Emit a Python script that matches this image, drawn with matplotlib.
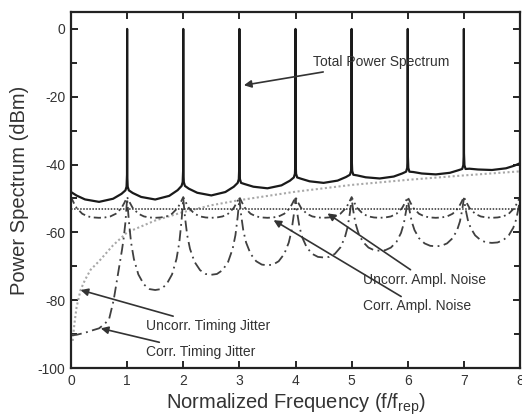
import matplotlib
matplotlib.use("Agg")
import matplotlib.pyplot as plt
from matplotlib.ticker import MultipleLocator

plt.rcParams['font.family'] = ['Liberation Sans', 'DejaVu Sans']
plt.rcParams['axes.unicode_minus'] = False

# ---- data ----
total_freq = [0.0, 0.1, 0.25, 0.5, 0.75, 0.9, 0.97, 0.99, 0.998, 1.0,
              1.002, 1.01, 1.03, 1.1, 1.25, 1.5, 1.75, 1.9, 1.97, 1.99, 1.998, 2.0,
              2.002, 2.01, 2.03, 2.1, 2.25, 2.5, 2.75, 2.9, 2.97, 2.99, 2.998, 3.0,
              3.002, 3.01, 3.03, 3.1, 3.25, 3.5, 3.75, 3.9, 3.97, 3.99, 3.998, 4.0,
              4.002, 4.01, 4.03, 4.1, 4.25, 4.5, 4.75, 4.9, 4.97, 4.99, 4.998, 5.0,
              5.002, 5.01, 5.03, 5.1, 5.25, 5.5, 5.75, 5.9, 5.97, 5.99, 5.998, 6.0,
              6.002, 6.01, 6.03, 6.1, 6.25, 6.5, 6.75, 6.9, 6.97, 6.99, 6.998, 7.0,
              7.002, 7.01, 7.03, 7.1, 7.25, 7.5, 7.75, 7.9, 8.0]
total_db = [-48.1, -49.14, -50.28, -51.0, -50.08, -48.63, -47.6, -46.5, -43.0, 0.0,
            -43.0, -46.5, -47.6, -48.38, -49.55, -50.3, -49.23, -47.55, -46.3, -45.2, -41.7, 0.0,
            -41.7, -45.2, -46.3, -47.12, -48.32, -49.1, -48.1, -46.54, -45.4, -44.3, -40.8, 0.0,
            -40.8, -44.3, -45.4, -45.78, -46.53, -47.0, -46.13, -44.76, -43.8, -42.7, -39.2, 0.0,
            -39.2, -42.7, -43.8, -44.18, -44.93, -45.4, -44.73, -43.67, -43.0, -41.9, -38.4, 0.0,
            -38.4, -41.9, -43.0, -43.2, -43.75, -44.1, -43.53, -42.63, -42.1, -41.0, -37.5, 0.0,
            -37.5, -41.0, -42.1, -42.2, -42.63, -42.9, -42.43, -41.68, -41.3, -40.2, -36.7, 0.0,
            -36.7, -40.2, -41.3, -41.22, -41.45, -41.6, -41.1, -40.32, -39.6]

uncorr_ampl_freq = [0.0, 8.0]
uncorr_ampl_db = [-53.2, -53.2]

corr_ampl_freq = [0.0, 0.05, 0.1, 0.2, 0.3, 0.4, 0.5, 0.6, 0.7, 0.8, 0.9, 0.95,
                  1.0, 1.05, 1.1, 1.2, 1.3, 1.4, 1.5, 1.6, 1.7, 1.8, 1.9, 1.95,
                  2.0, 2.05, 2.1, 2.2, 2.3, 2.4, 2.5, 2.6, 2.7, 2.8, 2.9, 2.95,
                  3.0, 3.05, 3.1, 3.2, 3.3, 3.4, 3.5, 3.6, 3.7, 3.8, 3.9, 3.95,
                  4.0, 4.05, 4.1, 4.2, 4.3, 4.4, 4.5, 4.6, 4.7, 4.8, 4.9, 4.95,
                  5.0, 5.05, 5.1, 5.2, 5.3, 5.4, 5.5, 5.6, 5.7, 5.8, 5.9, 5.95,
                  6.0, 6.05, 6.1, 6.2, 6.3, 6.4, 6.5, 6.6, 6.7, 6.8, 6.9, 6.95,
                  7.0, 7.05, 7.1, 7.2, 7.3, 7.4, 7.5, 7.6, 7.7, 7.8, 7.9, 7.95, 8.0]
corr_ampl_db = [-49.6, -51.3, -52.8, -54.5, -55.3, -55.6, -55.7, -55.6, -55.3, -54.5, -52.8, -51.3,
                -49.6, -51.3, -52.8, -54.5, -55.3, -55.6, -55.7, -55.6, -55.3, -54.5, -52.8, -51.3,
                -49.6, -51.3, -52.8, -54.5, -55.3, -55.6, -55.7, -55.6, -55.3, -54.5, -52.8, -51.3,
                -49.6, -51.3, -52.8, -54.5, -55.3, -55.6, -55.7, -55.6, -55.3, -54.5, -52.8, -51.3,
                -49.6, -51.3, -52.8, -54.5, -55.3, -55.6, -55.7, -55.6, -55.3, -54.5, -52.8, -51.3,
                -49.6, -51.3, -52.8, -54.5, -55.3, -55.6, -55.7, -55.6, -55.3, -54.5, -52.8, -51.3,
                -49.6, -51.3, -52.8, -54.5, -55.3, -55.6, -55.7, -55.6, -55.3, -54.5, -52.8, -51.3,
                -49.6, -51.3, -52.8, -54.5, -55.3, -55.6, -55.7, -55.6, -55.3, -54.5, -52.8, -51.3, -49.6]

uncorr_tj_freq = [0.03, 0.06, 0.1, 0.17, 0.25, 0.35, 0.5, 0.75, 1.0, 1.5, 2.0, 2.5,
                  3.0, 4.0, 5.0, 6.0, 7.0, 8.0]
uncorr_tj_db = [-92.0, -87.0, -82.0, -77.0, -74.0, -71.0, -68.5, -63.8, -60.0, -56.5, -54.0, -52.0,
                -50.5, -48.0, -46.0, -44.5, -43.2, -42.0]

corr_tj_freq = [0.0, 0.1, 0.25, 0.4, 0.5, 0.6, 0.68, 0.76, 0.82, 0.87, 0.91, 0.94, 0.97, 1.0,
                1.03, 1.07, 1.12, 1.2, 1.3, 1.4, 1.5, 1.6, 1.7, 1.8, 1.88, 1.93, 1.97, 2.0,
                2.03, 2.07, 2.12, 2.2, 2.3, 2.4, 2.5, 2.6, 2.7, 2.8, 2.88, 2.93, 2.97, 3.0,
                3.03, 3.07, 3.12, 3.2, 3.3, 3.4, 3.5, 3.6, 3.7, 3.8, 3.88, 3.93, 3.97, 4.0,
                4.03, 4.07, 4.12, 4.2, 4.3, 4.4, 4.5, 4.6, 4.7, 4.8, 4.88, 4.93, 4.97, 5.0,
                5.03, 5.07, 5.12, 5.2, 5.3, 5.4, 5.5, 5.6, 5.7, 5.8, 5.88, 5.93, 5.97, 6.0,
                6.03, 6.07, 6.12, 6.2, 6.3, 6.4, 6.5, 6.6, 6.7, 6.8, 6.88, 6.93, 6.97, 7.0,
                7.03, 7.07, 7.12, 7.2, 7.3, 7.4, 7.5, 7.6, 7.7, 7.8, 7.88, 7.93, 7.97, 8.0]
corr_tj_db = [-90.4, -90.2, -89.6, -88.8, -88.3, -87.0, -85.5, -80.0, -74.0, -69.0, -65.0, -61.5, -57.0, -50.0,
              -56.48, -62.96, -67.82, -72.41, -75.38, -76.73, -77.0, -76.73, -75.38, -72.41, -67.82, -62.96, -56.48, -50.0,
              -55.4, -60.8, -64.85, -68.67, -71.15, -72.27, -72.5, -72.27, -71.15, -68.67, -64.85, -60.8, -55.4, -50.0,
              -54.73, -59.46, -63.0, -66.35, -68.52, -69.5, -69.7, -69.5, -68.52, -66.35, -63.0, -59.46, -54.73, -50.0,
              -54.18, -58.35, -61.48, -64.44, -66.36, -67.23, -67.4, -67.23, -66.36, -64.44, -61.48, -58.35, -54.18, -50.0,
              -53.7, -57.39, -60.16, -62.78, -64.48, -65.25, -65.4, -65.25, -64.48, -62.78, -60.16, -57.39, -53.7, -50.0,
              -53.38, -56.77, -59.31, -61.7, -63.25, -63.96, -64.1, -63.96, -63.25, -61.7, -59.31, -56.77, -53.38, -50.0,
              -53.14, -56.29, -58.65, -60.87, -62.31, -62.97, -63.1, -62.97, -62.31, -60.87, -58.65, -56.29, -53.14, -50.0]

x_ticks = [0, 1, 2, 3, 4, 5, 6, 7, 8]
y_ticks = [0, -20, -40, -60, -80, -100]

# ---- figure ----
fig = plt.figure(figsize=(5.22, 4.16), dpi=100)
ax = fig.add_axes([71 / 522, 48 / 416, 449 / 522, 356 / 416])

ax.plot(uncorr_tj_freq, uncorr_tj_db, color='#a8a8a8', lw=1.5, linestyle=(0, (1, 1.2)))
ax.plot(corr_tj_freq, corr_tj_db, color='#404040', lw=1.3, linestyle=(0, (6, 2.5, 1, 2.5)))
ax.plot(corr_ampl_freq, corr_ampl_db, color='#404040', lw=1.3, linestyle=(0, (4, 2, 1, 2)))
ax.plot(uncorr_ampl_freq, uncorr_ampl_db, color='#303030', lw=1.1, linestyle=(0, (1, 1)))
ax.plot(total_freq, total_db, color='#1a1a1a', lw=1.6)

ax.set_xlim(0, 8)
ax.set_ylim(-100, 5)
ax.set_xticks(x_ticks)
ax.set_yticks(y_ticks)
ax.yaxis.set_minor_locator(MultipleLocator(10))
ax.tick_params(which='both', direction='in', top=True, right=True, width=1.2,
               labelsize=10, labelcolor='#333333', pad=4)
ax.tick_params(which='major', length=5)
ax.tick_params(which='minor', length=4)
ax.tick_params(axis='y', which='both', right=True, labelright=False)
for s in ax.spines.values():
    s.set_linewidth(1.6)
    s.set_color('#222222')

ax.set_xlabel('Normalized Frequency (f/f$_{\\mathregular{rep}}$)', fontsize=14.5,
              color='#333333', labelpad=3)
ax.set_ylabel('Power Spectrum (dBm)', fontsize=14.5, color='#333333', labelpad=6)

arrow = dict(arrowstyle='-|>', color='#333333', lw=1.2, mutation_scale=11,
             shrinkA=0, shrinkB=0)
tk = dict(fontsize=10, color='#333333', va='center', ha='left')
ax.annotate('Total Power Spectrum', xy=(3.08, -16.6), xytext=(4.32, -9.8),
            arrowprops=arrow, **tk)
ax.annotate('Uncorr. Ampl. Noise', xy=(4.57, -54.4), xytext=(5.21, -73.9),
            arrowprops=arrow, **tk)
ax.annotate('Corr. Ampl. Noise', xy=(3.61, -56.4), xytext=(5.21, -81.8),
            arrowprops=arrow, **tk)
ax.annotate('Uncorr. Timing Jitter', xy=(0.17, -77.0), xytext=(1.33, -87.6),
            arrowprops=arrow, **tk)
ax.annotate('Corr. Timing Jitter', xy=(0.53, -88.3), xytext=(1.33, -95.3),
            arrowprops=arrow, **tk)

fig.savefig('out.png', dpi=100)
